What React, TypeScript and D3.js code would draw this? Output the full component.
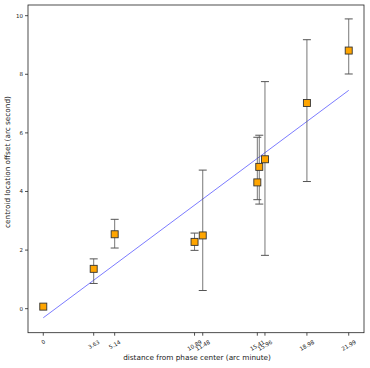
import React from "react";
import { scaleLinear, line } from "d3";

// distance from phase center (arc minute)
const distances = [0, 3.63, 5.14, 10.89, 11.48, 15.41, 15.55, 15.96, 18.98, 21.99];
// centroid offset (arc second) and error bar ends
const offsets = [0.07, 1.36, 2.54, 2.28, 2.5, 4.31, 4.84, 5.1, 7.02, 8.81];
const errLow = [0.07, 0.86, 2.07, 1.99, 0.62, 3.72, 3.57, 1.82, 4.34, 8.01];
const errHigh = [0.07, 1.7, 3.05, 2.58, 4.73, 5.85, 5.92, 7.75, 9.18, 9.89];

const xTicks = [0, 3.63, 5.14, 10.89, 11.48, 15.41, 15.96, 18.98, 21.99];
const xTickLabels = ["0", "3.63", "5.14", "10.89", "11.48", "15.41", "15.96", "18.98", "21.99"];
const yTicks = [0, 2, 4, 6, 8, 10];

// linear fit
const fitSlope = 0.353;
const fitIntercept = -0.31;

const W = 370;
const H = 368;
const left = 28, right = 364, top = 5, bottom = 332.7;

export default function App() {
  const x = scaleLinear().domain([-1.1, 23.09]).range([left, right]);
  const y = scaleLinear().domain([-0.82, 10.365]).range([bottom, top]);

  const fitX = [0, 21.99];
  const fitPath = line<number>()
    .x(d => x(d))
    .y(d => y(fitSlope * d + fitIntercept))(fitX);

  const font = "DejaVu Sans, sans-serif";
  const tickFs = 5.5;
  const labelFs = 7.3;
  const ms = 7; // marker size

  return (
    <svg width={W} height={H} style={{ position: "absolute", left: 0, top: 0 }}>
      <rect x={0} y={0} width={W} height={H} fill="white" />

      {/* fit line */}
      <path d={fitPath || ""} fill="none" stroke="#0000ff" strokeOpacity={0.65} strokeWidth={0.8} />

      {/* error bars */}
      {distances.map((d, i) => {
        if (errHigh[i] - errLow[i] < 0.01) return null;
        const cx = x(d);
        return (
          <g key={"e" + i} stroke="#555" strokeWidth={1}>
            <line x1={cx} x2={cx} y1={y(errLow[i])} y2={y(errHigh[i])} strokeOpacity={0.8} />
            <line x1={cx - 4} x2={cx + 4} y1={y(errLow[i])} y2={y(errLow[i])} />
            <line x1={cx - 4} x2={cx + 4} y1={y(errHigh[i])} y2={y(errHigh[i])} />
          </g>
        );
      })}

      {/* markers */}
      {distances.map((d, i) => (
        <rect key={"m" + i} x={x(d) - ms / 2} y={y(offsets[i]) - ms / 2} width={ms} height={ms}
          fill="#ffa500" stroke="#333" strokeWidth={0.9} />
      ))}

      {/* frame */}
      <rect x={left} y={top} width={right - left} height={bottom - top} fill="none" stroke="#222" strokeWidth={0.8} />

      {/* x axis ticks */}
      {xTicks.map((t, i) => {
        const tx = x(t);
        const lbl = xTickLabels[i];
        const w = lbl.length * tickFs * 0.62;
        const h = w * 0.5 + tickFs * 0.87;
        return (
          <g key={"xt" + i}>
            <line x1={tx} x2={tx} y1={bottom} y2={bottom + 3} stroke="#222" strokeWidth={0.8} />
            <text transform={`translate(${tx},${bottom + 6 + h / 2}) rotate(-30)`} textAnchor="middle"
              dominantBaseline="central" fontFamily={font} fontSize={tickFs} fill="#222">{lbl}</text>
          </g>
        );
      })}

      {/* y axis ticks */}
      {yTicks.map(t => (
        <g key={"yt" + t}>
          <line x1={left - 3} x2={left} y1={y(t)} y2={y(t)} stroke="#222" strokeWidth={0.8} />
          <text x={left - 5} y={y(t)} textAnchor="end" dominantBaseline="central"
            fontFamily={font} fontSize={tickFs} fill="#222">{t}</text>
        </g>
      ))}

      <text x={197} y={359.5} textAnchor="middle" fontFamily={font} fontSize={labelFs} fill="#222">
        distance from phase center (arc minute)
      </text>
      <text transform={`translate(7.5,162) rotate(-90)`} textAnchor="middle"
        dominantBaseline="central" fontFamily={font} fontSize={labelFs} fill="#222">
        centroid location offset (arc second)
      </text>
    </svg>
  );
}
